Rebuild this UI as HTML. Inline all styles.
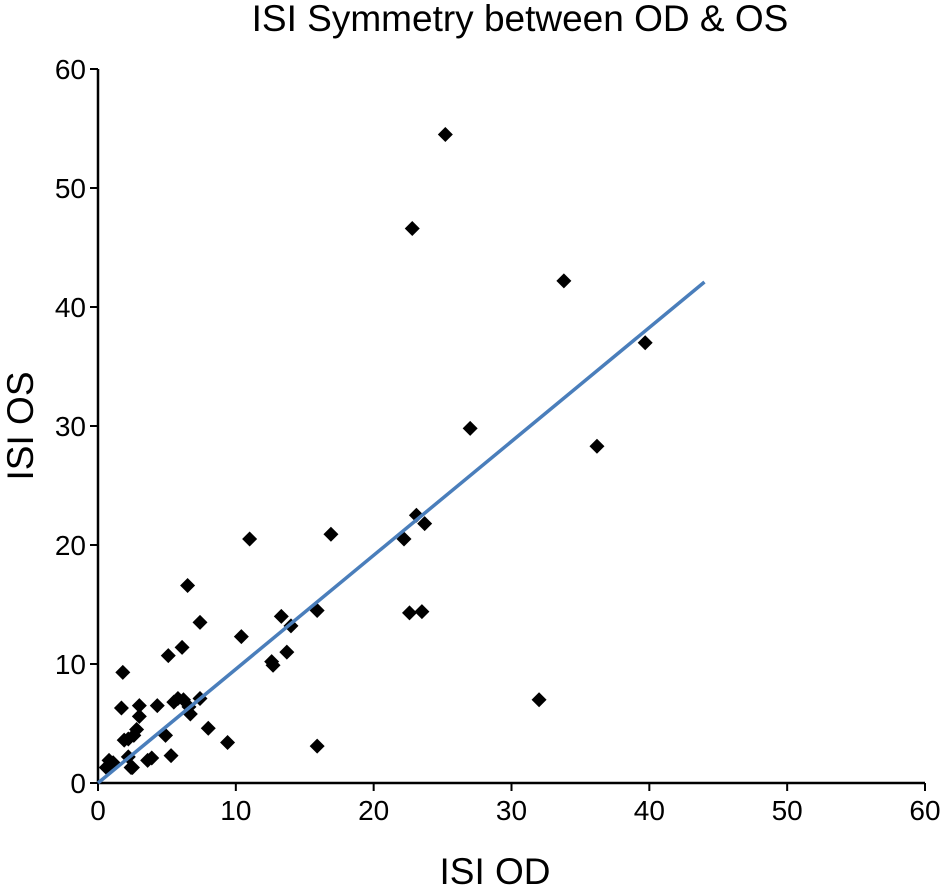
<!DOCTYPE html>
<html><head><meta charset="utf-8"><style>
html,body{margin:0;padding:0;background:#fff;}
svg{display:block;font-family:"Liberation Sans",Arial,sans-serif;}
</style></head><body>
<svg id="chart" width="941" height="887">
<text x="520" y="31" text-anchor="middle" font-size="37">ISI Symmetry between OD &amp; OS</text>
<text x="495" y="884" text-anchor="middle" font-size="37">ISI OD</text>
<text transform="translate(33,426) rotate(-90)" text-anchor="middle" font-size="37">ISI OS</text>
<g id="axes"></g><g id="marks"></g>
</svg>
<script>
const xTicks=[0,10,20,30,40,50,60];
const yTicks=[0,10,20,30,40,50,60];
const xVals=[25.2,22.8,33.8,39.7,27.0,36.2,23.1,23.7,22.2,16.9,11.0,6.5,22.6,23.5,15.9,13.3,14.0,7.4,10.4,6.1,5.1,13.7,12.6,12.7,1.8,32.0,7.4,5.5,5.8,6.2,6.6,6.7,1.7,3.0,3.0,4.3,8.0,4.9,2.8,2.2,1.9,2.6,9.4,15.9,5.3,3.6,3.9,2.4,0.8,0.6,1.1,2.2,2.5];
const yVals=[54.5,46.6,42.2,37.0,29.8,28.3,22.5,21.8,20.5,20.9,20.5,16.6,14.3,14.4,14.5,14.0,13.2,13.5,12.3,11.4,10.7,11.0,10.2,9.9,9.3,7.0,7.1,6.8,7.1,7.0,6.4,5.8,6.3,6.5,5.6,6.5,4.6,4.0,4.5,3.7,3.6,4.0,3.4,3.1,2.3,1.9,2.1,1.3,1.9,1.3,1.7,2.2,1.3];
const trendX=[0,44];
const trendY=[0,42.1];
const X=v=>98+v*(925-98)/60, Y=v=>783-v*(783-69)/60;
const NS="http://www.w3.org/2000/svg";
const ax=document.getElementById('axes'), mk=document.getElementById('marks');
function el(t,a,p){const e=document.createElementNS(NS,t);for(const k in a)e.setAttribute(k,a[k]);p.appendChild(e);return e;}
let l=el('line',{x1:X(0),y1:Y(0),x2:X(60),y2:Y(0),stroke:'#000','stroke-width':2.5},ax);


l=el('line',{x1:X(0),y1:Y(0),x2:X(0),y2:Y(60),stroke:'#000','stroke-width':2.5},ax);


xTicks.forEach(v=>{
 el('line',{x1:X(v),y1:Y(0),x2:X(v),y2:Y(0)+8,stroke:'#000','stroke-width':2},ax);
 const t=el('text',{x:X(v),y:Y(0)+37,'text-anchor':'middle','font-size':28},ax);t.textContent=v;
 
 
});
yTicks.forEach(v=>{
 el('line',{x1:X(0)-8,y1:Y(v),x2:X(0),y2:Y(v),stroke:'#000','stroke-width':2},ax);
 const t=el('text',{x:X(0)-12,y:Y(v)+10,'text-anchor':'end','font-size':28},ax);t.textContent=v;
 
 
});
xVals.forEach((xv,i)=>{
 const cx=X(xv),cy=Y(yVals[i]),r=7.5;
 const p=el('polygon',{points:`${cx},${cy-r} ${cx+r},${cy} ${cx},${cy+r} ${cx-r},${cy}`,fill:'#000'},mk);
 
 
});
const tl=el('line',{x1:X(trendX[0]),y1:Y(trendY[0]),x2:X(trendX[1]),y2:Y(trendY[1]),stroke:'#4a7ebb','stroke-width':3.5},mk);


</script>
</body></html>
